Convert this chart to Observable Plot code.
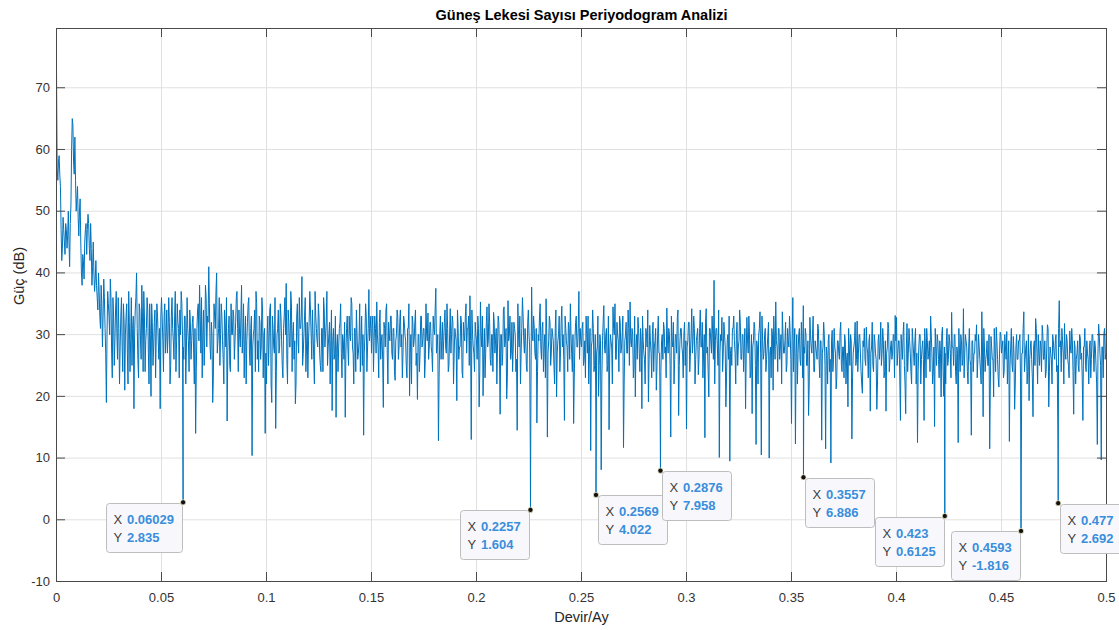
<!DOCTYPE html>
<html>
<head>
<meta charset="utf-8">
<script src="https://cdn.jsdelivr.net/npm/d3@7"></script>
<script src="https://cdn.jsdelivr.net/npm/@observablehq/plot@0.6"></script>
<style>
  html, body { margin: 0; padding: 0; background: #fff; }
  #chart svg { display: block; }
</style>
</head>
<body>
<div id="chart"></div>
<script>
// ---------- DATA ----------
const titleText = "Güneş Lekesi Sayısı Periyodogram Analizi";
const xLabel = "Devir/Ay";
const yLabel = "Güç (dB)";

// frequency resolution of the periodogram grid (cycles / month)
const df = 0.0003125;

// power in dB, blocks of 0.05 cycles/month.
// "p" arrays hold the even bins, "q" arrays the odd bins in between.
const p000 = [73.3,55,59,54,42,49,45,48,44,50,41,51,65,58,62,50,54,46,52,40,43,39,47,43,49.5,44,48,38,45,37,42,36,40,33,38,28,39,31,19,37,33,39,27,36,25,34,30,36,22,33,28,35,21,33,27,37,24,36,31,18,34,40,26,35,29,38,24,33,29,36,27,35,20,32,28,34,30,33,26,18];
const q000 = [57,58,56,47,44,47,43,47,46,45,48,60,64,56,55,52,49,50,45,38,42,45,48,47,48,42,44,41,40,39,38,34,37,31,35,33,36,27,30,35,30,36,23,33,29,37,26,31,28,36,24,32,30,35,22,32,29,25,33,30,36,31,23,34,26,33,37,24,31,34,22,30,35,25,32,23,35,29,31,33];
const p005 = [36,29,33,27,34,30,32,25,36,29,33,24,35,31,34,37,30,26,33,28,31,24,32,29,33,22,14,31,35,38,27,23,34,30,36,33,41,28,32,19,35,31,40,29,36,30,33,26,34,28,16,31,25,35,30,33,29,36,31,34,28,38,30,23,33,29,35,27,31,10.4,30,34,37,26,24,32,28,34,30,14];
const q005 = [33,24,35,30,27,36,22,33,31,26,37,29,32,23,30,35,28,33,22,36,29,34,26,32,27,31,24,34,29,33,36,30,25,38,28,32,35,26,30,23,33,37,27,31,25,35,29,22,32,36,27,33,24,30,34,26,32,37,24,30,33,27,35,29,22,32,36,25,33,28,31,24,35,29,33,26,36,23,31,27];
const p010 = [22,33,29,35,19,31,27,14.8,30,34,28,33,25,31,36,38.3,22,32,28,35,30,26,18.8,33,29,36,31,39.4,27,33,24,32,29,37,30,34,26,37,31,28,33,25,31,24,34,30,37,28,32,29,17.7,31,27,16.6,30,28,32,27,30,26,16.6,31,28,33,29,35,27,31,24,30,27,35,29,25,13.7,30,33,28,37.3,31];
const q010 = [30,25,34,22,33,28,36,24,31,27,35,29,23,33,30,26,34,28,37,24,32,29,22,35,27,31,33,25,30,36,28,23,32,34,26,30,22,33,29,35,27,24,31,36,28,32,25,30,22,34,29,26,33,28,24,31,35,23,29,32,27,33,25,30,36,28,22,31,34,26,29,24,33,30,27,35,24,31,29,33];
const p015 = [27,33,29,31,35.3,28,32,26,30,18.2,31,34,27,32,29,33,26,31,22.6,30,33,28,34,30,27,32,29,23,31,20.1,30,33,28,32,25,19.5,30,27,33,29,31,26,30,33.5,28,32,27,33,30,37.5,28,12.8,30,26,32,29,34,27,31,25,34.2,30,32,27,30,19.3,31,28,33,24,32,29,35,31,33,36.3,13,30,27,32];
const q015 = [31,24,33,27,30,23,34,29,26,32,28,35,22,30,33,27,31,24,29,34,26,32,28,23,33,30,25,31,35,27,22,32,29,34,27,30,24,33,28,31,23,35,29,26,32,28,24,31,34,27,30,23,33,29,26,32,28,35,24,30,27,33,22,31,29,34,26,28,32,23,30,33,27,31,25,29,34,28,24,30];
const p020 = [29,33,18.3,35.3,28,20.1,31,27,34.5,29,32,25,30,33.6,27,31,28,32,17.1,30,27,34.5,29,19.6,35.5,30,26,32,28,31,24,14.5,30,33,27,36,29,31,25,32,30,11,37.7,29,31,26,15.7,30,33,28,31,24,30,35.8,13.4,29,32,27,30,25,31,19.9,29,33,27,34.6,30,16.1,31,28,32,26,30,24,15.6,29,33,28,37,31];
const q020 = [26,31,24,30,33,27,23,32,28,35,26,30,24,32,29,22,33,27,30,25,34,28,31,23,29,33,27,24,32,30,26,35,28,22,31,33,27,29,24,34,28,22,30,33,27,31,24,29,35,26,32,28,23,30,27,33,25,31,29,22,34,27,30,24,32,28,26,33,29,24,31,35,27,30,23,32,28,31,26,29];
const p025 = [28,32,26,23,30,33,27,11.2,29,31,25,15,28,20,30,8.1,29,34.7,27,31,25,14.6,30,28,34.5,30,26,32,29,33,27,30,11.7,29,32,27,31,35.3,28,30,25,19.9,30,32.8,27,31,18,29,26,31,28,19.1,31.5,27,30,24,29,21,30,27,14.5,29,26,31,28,34.3,27,30,13.4,29,32,26,30,32.8,16.9,29,31,27,30,25];
const q025 = [31,25,29,33,27,22,31,28,34,24,30,27,33,25,29,23,32,28,30,24,33,27,29,22,31,35,26,30,24,32,28,33,22,30,27,34,25,29,31,23,33,28,26,31,24,29,33,27,22,30,34,26,29,23,32,28,31,25,33,27,24,30,32,27,23,29,31,25,33,28,22,30,27,34,25,31,28,23,32,29];
const p030 = [14.7,29,32,27,34.2,29,31,26,30,23.5,31,28,32,27,13.3,34.2,28,19.9,31,27,30,38.8,29,31,25,10.1,30,32.8,27,30,18.3,29,26,9.5,28,31,33,27,30,25,29,32,26,30,28,18,32.8,27,30,24,17.2,29,31,12.2,28,30,33.7,10.5,29,27,31,26,30,10,28,31,21,29,35.3,28,31,26,30,33.7,27,29,24,31,28,30];
const q030 = [28,32,24,30,27,33,22,29,31,26,34,28,23,30,32,27,24,31,29,33,26,22,31,28,34,27,29,24,32,28,23,30,33,27,25,31,29,22,32,28,34,26,30,24,31,27,29,33,23,30,28,32,25,29,22,31,27,33,26,30,24,28,32,27,23,30,33,26,29,24,31,28,22,30,27,32,25,29,33,26];
const p035 = [15.6,36,28,12.3,30,27,31,25,29,34.7,27,30,25,16.9,32.8,28,30,24,29,27,31.7,26,29,12.9,28,30,11.5,27,29,24,9.2,30.7,26,28,21.2,29,27,30.5,25,28,23,29,26,18.3,28,30,13.1,27,29,25,32.2,27,30,24,20.5,28,26,31.2,27,29,17.6,28,25,30,27,17.9,29,26,32,27,29,24,17.6,28,31,26,29,27,30,33.1];
const q035 = [29,24,31,27,22,30,26,32,23,28,31,25,29,22,30,27,33,24,28,26,31,23,29,27,32,25,28,22,30,26,29,24,31,27,23,29,26,32,24,28,30,22,27,31,25,29,23,28,32,26,24,30,27,22,29,31,25,28,23,30,27,32,24,29,26,22,30,28,25,31,23,29,27,32,24,28,26,30,23,29];
const p040 = [32.8,27,29,16.1,28,30,25,17.2,31.8,27,29,24,31,27,29,22,12.5,28,30,26,29,16.1,28,31,26,29,33,27,24,15.1,28,30,26,29,19.9,31.2,20,27,29,25,30,27,33.6,28,30,24,28,12.5,27,30,25,34.2,27,29,24,28,26,13.7,29,27,30,31.6,26,28,24,33.7,16.7,28,26,29,25,11.5,29.7,26,19.9,28,31.2,26,21.5,30.4];
const q040 = [25,29,23,30,26,32,22,28,24,31,27,22,29,25,31,27,24,30,22,28,26,31,23,29,27,24,30,22,28,31,25,29,23,27,30,24,28,22,31,26,29,23,28,25,30,22,27,31,24,29,26,23,30,28,22,31,25,29,24,27,29,23,30,26,22,28,31,24,27,25,30,22,28,26,31,24,29,23,27,30];
const p045 = [27,29,24,28,30.5,26,12.7,28,25,29.7,17.9,28,26,29,30,6.4,27,33.7,26,29,24,19.3,28,26,16.7,29,32.6,27,30,25,28,31.5,26,29,24,31.6,18.3,28,26,30,27,29,24,12.8,35.5,29,31,27,31.8,26,29,25,30.6,27,29,17.1,28,26,29,24,29.5,27,16.1,28,25,29,26,28,23,30,27,29,25,12.2,31.7,27,9.7,28,30,26,32];
const q045 = [28,23,30,26,22,29,25,31,24,27,22,30,26,29,23,27,31,24,28,22,30,26,29,23,28,25,31,22,27,29,24,30,26,23,28,31,24,27,22,29,26,30,25,31,28,24,29,22,27,30,26,23,28,31,24,29,22,27,25,30,26,23,28,31,24,27,22,29,26,30,24,28,22,27,30,25,28,23,31,27];

// data tips shown on the chart
const tipX = [0.06029, 0.2257, 0.2569, 0.2876, 0.3557, 0.423, 0.4593, 0.477];
const tipY = [2.835, 1.604, 4.022, 7.958, 6.886, 0.6125, -1.816, 2.692];

// axes ticks
const xTicks = [0, 0.05, 0.1, 0.15, 0.2, 0.25, 0.3, 0.35, 0.4, 0.45, 0.5];
const xTickLabels = ["0", "0.05", "0.1", "0.15", "0.2", "0.25", "0.3", "0.35", "0.4", "0.45", "0.5"];
const yTicks = [-10, 0, 10, 20, 30, 40, 50, 60, 70];
const yTickLabels = ["-10", "0", "10", "20", "30", "40", "50", "60", "70"];

// ---------- BUILD ----------
const evenBins = [].concat(p000, p005, p010, p015, p020, p025, p030, p035, p040, p045);
const oddBins = [].concat(q000, q005, q010, q015, q020, q025, q030, q035, q040, q045);
const pts = [];
evenBins.forEach((p, i) => pts.push({f: 2 * i * df, p}));
oddBins.forEach((p, i) => pts.push({f: (2 * i + 1) * df, p}));
const tips = tipX.map((f, i) => ({f, p: tipY[i]}));
const lineData = pts.concat(tips).sort((a, b) => a.f - b.f);

const FONT = "'Liberation Sans', Arial, Helvetica, sans-serif";
const W = 1119, H = 630, mL = 56, mR = 13, mT = 28, mB = 49;
const innerW = W - mL - mR, innerH = H - mT - mB;
const tk = 9;
const axisColor = "#4a4a4a";
const gridColor = "#e0e0e0";
const labelColor = "#333333";

const leftTips = new Set([0.06029, 0.2257, 0.423, 0.4593]);
function textW(s, fs) {
  let w = 0;
  for (const c of s) w += (c === "." ? 0.278 : c === "-" ? 0.333 : 0.556) * fs;
  return w;
}

function tipBoxes(index, scales) {
  const g = d3.create("svg:g").attr("font-family", FONT).attr("text-anchor", "start");
  tipX.forEach((f, i) => {
    const px = scales.x(f), py = scales.y(tipY[i]);
    const xs = String(f), ys = String(tipY[i]);
    const w = Math.round(21 + Math.max(textW(xs, 13), textW(ys, 13)) + 8);
    const h = 49;
    const bx = Math.round(leftTips.has(f) ? px - w - 0.5 : px + 2.3);
    const by = Math.round(py + 1);
    g.append("rect")
      .attr("x", bx + 0.5).attr("y", by + 0.5)
      .attr("width", w).attr("height", h).attr("rx", 3)
      .attr("fill", "#f8f8fc").attr("stroke", "#bdbdbd");
    const rows = [["X", xs, 21.3], ["Y", ys, 39.3]];
    for (const [lab, val, off] of rows) {
      g.append("text").attr("x", bx + 7.5).attr("y", by + off)
        .attr("text-anchor", "start")
        .attr("font-size", 13).attr("fill", "#404040").text(lab);
      g.append("text").attr("x", bx + 21).attr("y", by + off)
        .attr("text-anchor", "start")
        .attr("font-size", 13).attr("font-weight", "bold").attr("fill", "#3a8edb").text(val);
    }
  });
  return g.node();
}

const chart = Plot.plot({
  width: W, height: H,
  marginLeft: mL, marginRight: mR, marginTop: mT, marginBottom: mB,
  style: {fontFamily: FONT, background: "#fff"},
  x: {domain: [0, 0.5], axis: null},
  y: {domain: [-10, 79.6], axis: null},
  marks: [
    // grid
    Plot.ruleX(xTicks, {x: d => d, stroke: gridColor, strokeWidth: 1}),
    Plot.ruleY(yTicks, {y: d => d, stroke: gridColor, strokeWidth: 1}),
    // periodogram
    Plot.line(lineData, {x: "f", y: "p", stroke: "#0072BD", strokeWidth: 1}),
    // box
    Plot.frame({stroke: axisColor, strokeWidth: 1}),
    // inward ticks (bottom, top, left, right)
    Plot.ruleX(xTicks, {x: d => d, insetTop: innerH - tk, stroke: axisColor}),
    Plot.ruleX(xTicks, {x: d => d, insetBottom: innerH - tk, stroke: axisColor}),
    Plot.ruleY(yTicks, {y: d => d, insetRight: innerW - tk, stroke: axisColor}),
    Plot.ruleY(yTicks, {y: d => d, insetLeft: innerW - tk, stroke: axisColor}),
    // tick labels
    Plot.text(xTicks, {x: d => d, frameAnchor: "bottom", text: (d, i) => xTickLabels[i],
      dy: 11, lineAnchor: "top", fontSize: 13, fill: labelColor}),
    Plot.text(yTicks, {y: d => d, frameAnchor: "left", text: (d, i) => yTickLabels[i],
      dx: -6.5, textAnchor: "end", lineAnchor: "middle", fontSize: 13, fill: labelColor}),
    // title & axis labels
    Plot.text([titleText], {frameAnchor: "top", text: d => d, dy: -13, lineAnchor: "middle",
      fontSize: 14.5, fontWeight: "bold", fill: "#000"}),
    Plot.text([xLabel], {frameAnchor: "bottom", text: d => d, dy: 36, lineAnchor: "middle",
      fontSize: 14.5, fill: "#262626"}),
    Plot.text([yLabel], {frameAnchor: "left", text: d => d, dx: -37, rotate: -90, lineAnchor: "middle",
      fontSize: 14.5, fill: "#262626"}),
    // data tips
    tipBoxes,
    Plot.dot(tips, {x: "f", y: "p", r: 2.6, fill: "#111", stroke: "#fff6cc", strokeWidth: 0.7})
  ]
});
document.getElementById("chart").appendChild(chart);
</script>
</body>
</html>
